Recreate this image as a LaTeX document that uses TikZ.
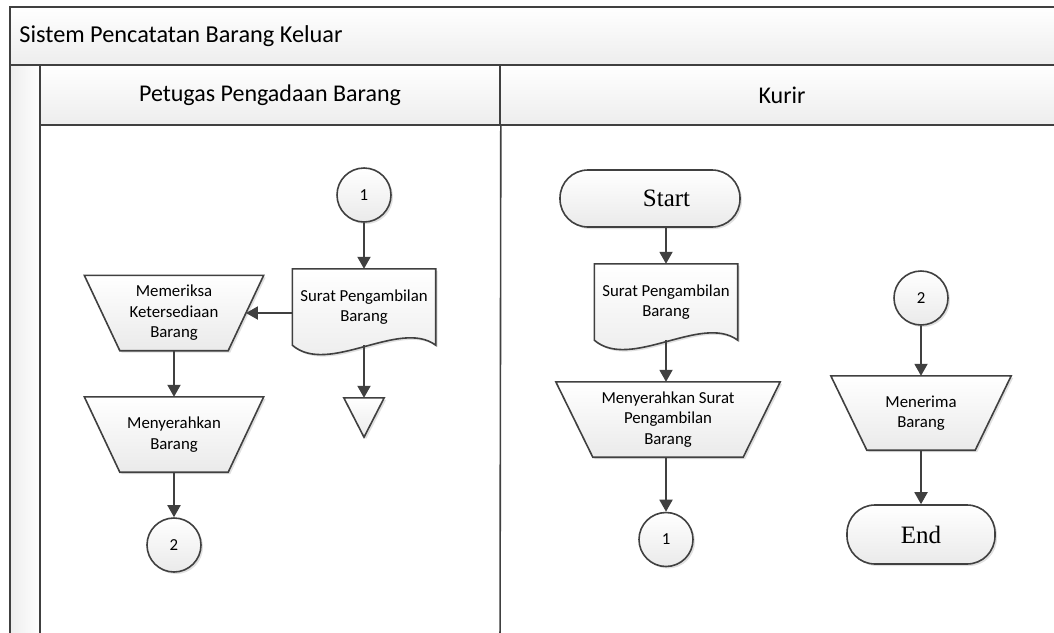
\documentclass[tikz,border=0pt]{standalone}
\usepackage{fontspec}
\setmainfont{Carlito}
\newfontfamily\serifterm{Liberation Serif}
\usetikzlibrary{arrows.meta,shadows,calc}
\pgfdeclarelayer{lanes}
\pgfdeclarelayer{shp}
\pgfsetlayers{lanes,shp,main}
\definecolor{linec}{HTML}{404040}
\definecolor{fillb}{HTML}{EAEAEA}
\definecolor{hdrb}{HTML}{EDEDED}
\newcommand\trapshape[2]{\path[shapestyle] (#1.north west) -- (#1.north east) -- ($(#1.south east)+(-#2,0)$) -- ($(#1.south west)+(#2,0)$) -- cycle;}
\newcommand\docshape[1]{\path[shapestyle] (#1.south east) -- (#1.north east) -- (#1.north west) -- (#1.south west) .. controls ($(#1.south west)+(36,31)$) and ($(#1.south east)+(-36,-27)$) .. (#1.south east) -- cycle;}
\begin{document}
\begin{tikzpicture}[x=1pt,y=-1pt,
  every node/.style={font=\fontsize{16.8}{20.5}\selectfont, inner sep=0pt, align=center},
  shapestyle/.style={draw=linec, line width=1.6pt, top color=white, bottom color=fillb,
    drop shadow={shadow xshift=2pt, shadow yshift=-2pt, fill=black, opacity=0.12}},
  conn/.style={circle, minimum size=54pt, shapestyle},
  term/.style={rectangle, rounded corners=28pt, shapestyle, font=\serifterm\fontsize{25}{30}\selectfont},
  trapbox/.style={minimum width=#1},
  docbox/.style={minimum width=143pt, minimum height=76pt},
  arr/.style={draw=linec, line width=1.9pt, -{Triangle[length=12pt,width=13pt]}},
  lanehdr/.style={draw=linec, line width=1.6pt, top color=white, bottom color=hdrb, font=\fontsize{24}{28}\selectfont},
  lanebody/.style={draw=linec, line width=1.6pt}
]
\useasboundingbox (0,0) rectangle (1054,632);
\clip (0,0) rectangle (1054,632);

% ---------- pool and lanes ----------
\begin{pgfonlayer}{lanes}
  \fill[white] (0,0) rectangle (1054,632);
  \node[lanehdr, minimum width=1054pt, minimum height=58pt] (title) at (537,36) {};
  \node[anchor=west, font=\fontsize{24.3}{28}\selectfont] (titletext) at ($(title.west)+(10,0)$) {Sistem Pencatatan Barang Keluar};
  \path[lanebody, left color=gray!14, right color=white] (10,65) rectangle (40,660);
  \node[lanehdr, minimum width=460pt, minimum height=60pt] (h1) at (270,95) {Petugas Pengadaan Barang};
  \node[lanehdr, minimum width=564pt, minimum height=60pt] (h2) at (782,95) {Kurir};
  \coordinate (lanebot) at (500,660);
  \draw[lanebody] (h1.south east) -- (lanebot);
\end{pgfonlayer}

% ---------- lane 1: Petugas Pengadaan Barang ----------
\node[conn] (c1) at (364,195) {1};
\node[docbox] (doc1) at (364,307) {Surat Pengambilan\\Barang};
\node[trapbox=179pt, minimum height=75pt] (m1) at (174,313) {Memeriksa\\Ketersediaan\\Barang};
\node[trapbox=179pt, minimum height=75pt] (m2) at (174,434.5) {Menyerahkan\\Barang};
\node[conn] (c2) at (174,545) {2};
\node[minimum width=40pt, minimum height=39pt] (off) at (364,417.5) {};
\coordinate (m1e) at ($(m1.east)+(-17.75,0)$);

% ---------- lane 2: Kurir ----------
\node[term, minimum width=180pt, minimum height=57pt] (start) at (650,198.5) {\hspace*{33pt}Start};
\node[docbox] (doc2) at (666,302) {Surat Pengambilan\\Barang};
\node[trapbox=224pt, minimum height=75pt] (m3) at (668,419.5) {Menyerahkan Surat\\Pengambilan\\Barang};
\node[conn] (c1b) at (666,539.5) {1};
\node[conn] (c2b) at (921,298) {2};
\node[trapbox=180pt, minimum height=74pt] (m4) at (921,413) {Menerima\\Barang};
\node[term, minimum width=148pt, minimum height=59pt] (end) at (921,534.5) {End};

% ---------- drawn shapes ----------
\begin{pgfonlayer}{shp}
  \docshape{doc1}
  \docshape{doc2}
  \trapshape{m1}{35.5}
  \trapshape{m2}{35.5}
  \trapshape{m3}{37}
  \trapshape{m4}{36}
  \path[shapestyle] (off.north west) -- (off.north east) -- (off.south) -- cycle;
\end{pgfonlayer}

% ---------- connectors ----------
\draw[arr] (c1.south) -- (doc1.north);
\draw[arr] (doc1.west |- m1.center) -- (m1e);
\draw[arr] (m1.south) -- (m2.north);
\draw[arr] (m2.south) -- (c2.north);
\draw[arr] (doc1.south) -- (off.north);

\draw[arr] (start.south -| doc2.north) -- (doc2.north);
\draw[arr] (doc2.south) -- (doc2.south |- m3.north);
\draw[arr] (m3.south -| c1b) -- (c1b.north);
\draw[arr] (c2b.south) -- (m4.north);
\draw[arr] (m4.south) -- (end.north);
\end{tikzpicture}
\end{document}
